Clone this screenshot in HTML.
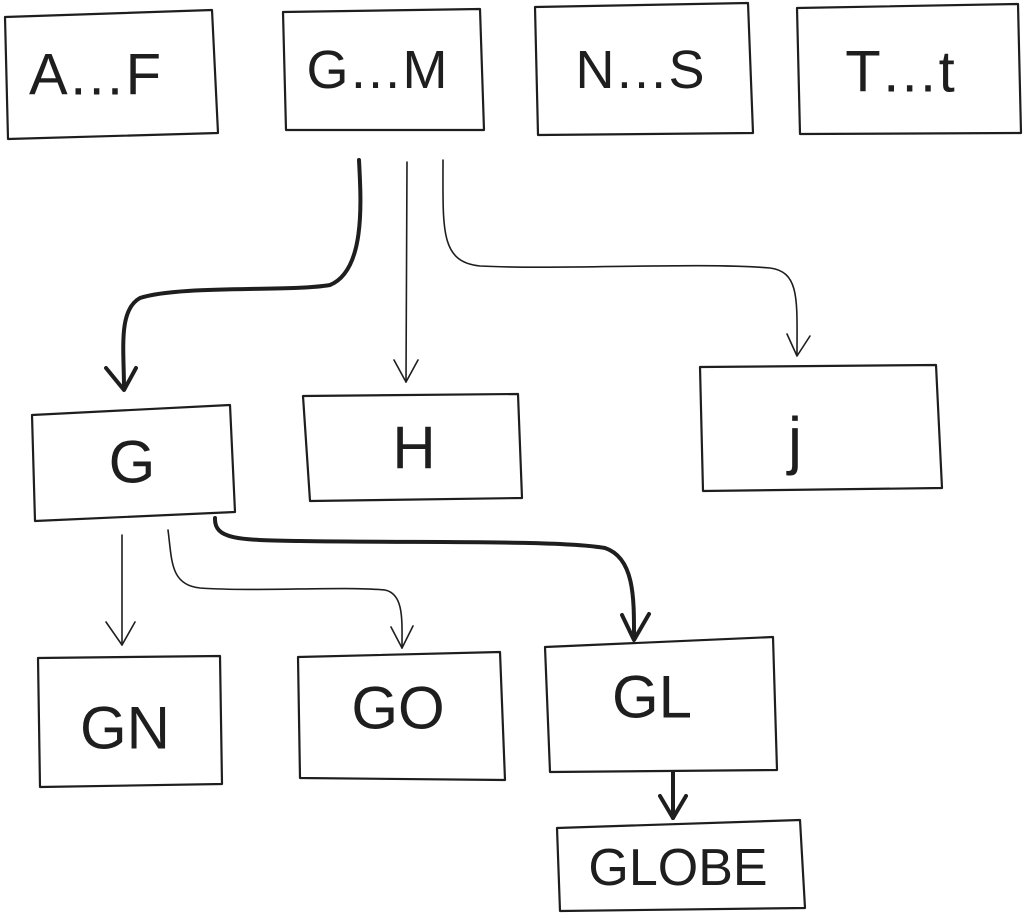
<!DOCTYPE html>
<html><head><meta charset="utf-8"><style>
html,body{margin:0;padding:0;background:#fff;}
svg{display:block}
text{font-family:"Liberation Sans",sans-serif;fill:#1e1e1e;text-anchor:middle;dominant-baseline:central;font-weight:normal}
</style></head><body>
<svg width="1024" height="914" viewBox="0 0 1024 914" xmlns="http://www.w3.org/2000/svg">
<g fill="none" stroke="#1e1e1e" stroke-width="2.2" stroke-linejoin="round">
<polygon points="5,17 212,10 218,133 8,139"/>
<polygon points="283,12 480,9 484,130 286,130"/>
<polygon points="535,7 748,3 753,133 538,135"/>
<polygon points="797,8 1018,4 1021,133 800,134"/>
<polygon points="32,415 230,405 235,512 35,521"/>
<polygon points="303,396 518,394 522,498 310,501"/>
<polygon points="700,367 936,365 942,488 703,491"/>
<polygon points="38,658 220,656 222,784 40,787"/>
<polygon points="298,657 500,652 505,780 300,778"/>
<polygon points="545,647 773,637 777,770 550,772"/>
<polygon points="557,828 800,820 805,908 560,911"/>
</g>
<g fill="none" stroke="#1e1e1e" stroke-linecap="round" stroke-linejoin="round">
<path d="M359,160 C361,200 366,270 330,285 C290,292 180,285 140,298 C118,310 124,350 124,388" stroke-width="4"/>
<path d="M106,368 L124,390 L136,368" stroke-width="4"/>
<path d="M407,162 L406,382" stroke-width="1.6"/>
<path d="M394,360 L406,382 L418,360" stroke-width="1.6"/>
<path d="M443,160 C443,230 440,262 480,266 C560,270 700,262 770,268 C800,272 797,300 797,355" stroke-width="1.6"/>
<path d="M787,334 L797,356 L810,336" stroke-width="1.6"/>
<path d="M122,535 L122,645" stroke-width="1.6"/>
<path d="M106,622 L122,645 L135,622" stroke-width="1.6"/>
<path d="M168,530 C172,560 170,585 200,588 C260,592 340,586 385,590 C404,594 402,620 402,648" stroke-width="1.6"/>
<path d="M391,627 L402,648 L413,626" stroke-width="1.6"/>
<path d="M215,518 C214,540 240,540 300,541 C420,543 560,540 605,548 C635,558 634,600 634,638" stroke-width="4"/>
<path d="M622,615 L634,640 L649,614" stroke-width="4"/>
<path d="M673,772 L673,818" stroke-width="4"/>
<path d="M660,796 L673,818 L686,796" stroke-width="4"/>
</g>
<text x="95" y="75" font-size="58">A…F</text>
<text x="377" y="70" font-size="54">G…M</text>
<text x="640" y="70" font-size="54">N…S</text>
<text x="900" y="72" font-size="58">T…t</text>
<text x="132" y="462" font-size="60">G</text>
<text x="414" y="448" font-size="60">H</text>
<text x="795" y="440" font-size="64">j</text>
<text x="125" y="728" font-size="60">GN</text>
<text x="398" y="708" font-size="60">GO</text>
<text x="652" y="697" font-size="60">GL</text>
<text x="678" y="868" font-size="52">GLOBE</text>
</svg>
</body></html>
